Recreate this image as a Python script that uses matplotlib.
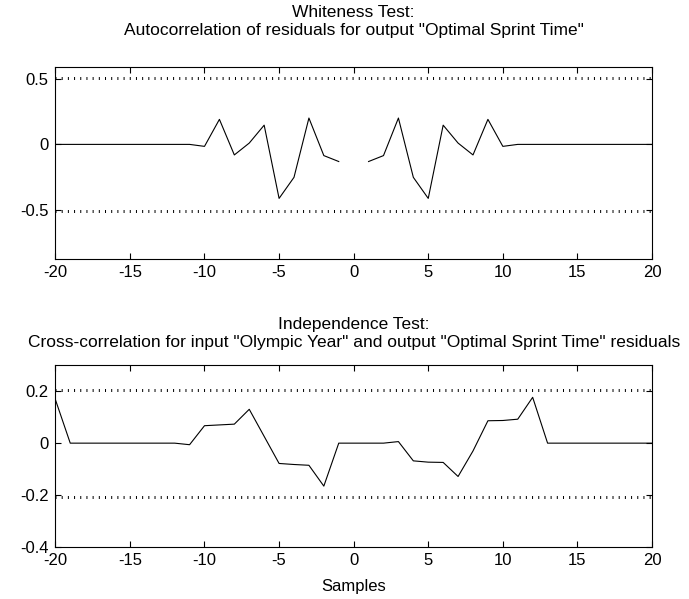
import numpy as np
import matplotlib
matplotlib.use('Agg')
import matplotlib.pyplot as plt

plt.rcParams['font.family'] = ['Liberation Sans', 'DejaVu Sans']
plt.rcParams['axes.unicode_minus'] = False

lags = np.arange(-20, 21)

# autocorrelation of residuals (lag 0 left out)
auto_corr = [0, 0, 0, 0, 0, 0, 0, 0, 0, 0,
             -0.015, 0.19, -0.08, 0.01, 0.146, -0.41, -0.25, 0.20, -0.085, -0.13,
             np.nan,
             -0.13, -0.085, 0.20, -0.25, -0.41, 0.146, 0.01, -0.08, 0.19, -0.015,
             0, 0, 0, 0, 0, 0, 0, 0, 0, 0]
auto_conf = 0.505

# cross-correlation input -> residuals
cross_corr = [0.168, 0, 0, 0, 0, 0, 0, 0, 0, -0.006,
              0.067, 0.07, 0.073, 0.13, 0.026, -0.078, -0.082, -0.085, -0.165, 0,
              0, 0, 0, 0.006, -0.068, -0.073, -0.074, -0.128, -0.03, 0.086,
              0.087, 0.092, 0.176, 0, 0, 0, 0, 0, 0, 0, 0]
cross_conf = 0.205

xticks = [-20, -15, -10, -5, 0, 5, 10, 15, 20]

fig = plt.figure(figsize=(6.89, 5.99), dpi=100)
ax1 = fig.add_axes([0.0803, 0.5676, 0.866, 0.320])
ax2 = fig.add_axes([0.0803, 0.0863, 0.866, 0.3043])

dots = dict(color='black', lw=2.16, linestyle=(0, (0.333, 1.73)), dash_capstyle='butt')


def style(ax):
    ax.set_xlim(-20, 20)
    ax.set_xticks(xticks)
    ax.tick_params(direction='in', length=4.5, width=0.8, top=True, right=True,
                   labelsize=12, pad=4)
    ax.tick_params(axis='y', pad=5)
    for s in ax.spines.values():
        s.set_linewidth(0.8)


ax1.plot(lags, auto_corr, color='black', lw=0.8)
ax1.plot([-20, 20], [auto_conf, auto_conf], **dots)
ax1.plot([-20, 20], [-auto_conf, -auto_conf], **dots)
ax1.set_ylim(-0.87, 0.585)
ax1.set_yticks([-0.5, 0, 0.5])
ax1.set_yticklabels(['-0.5', '0', '0.5'])
style(ax1)
ax1.set_title('Whiteness Test:\nAutocorrelation of residuals for output "Optimal Sprint Time"',
              fontsize=12.5, pad=23, linespacing=1.25)

ax2.plot(lags, cross_corr, color='black', lw=0.8)
ax2.plot([-20, 20], [cross_conf, cross_conf], **dots)
ax2.plot([-20, 20], [-cross_conf, -cross_conf], **dots)
ax2.set_ylim(-0.4, 0.3)
ax2.set_yticks([-0.4, -0.2, 0, 0.2])
ax2.set_yticklabels(['-0.4', '-0.2', '0', '0.2'])
style(ax2)
ax2.set_title('Independence Test:\nCross-correlation for input "Olympic Year" and output "Optimal Sprint Time" residuals',
              fontsize=12.5, pad=13, linespacing=1.25)
ax2.set_xlabel('Samples', fontsize=12, labelpad=8)

fig.savefig('out.png', dpi=100)
